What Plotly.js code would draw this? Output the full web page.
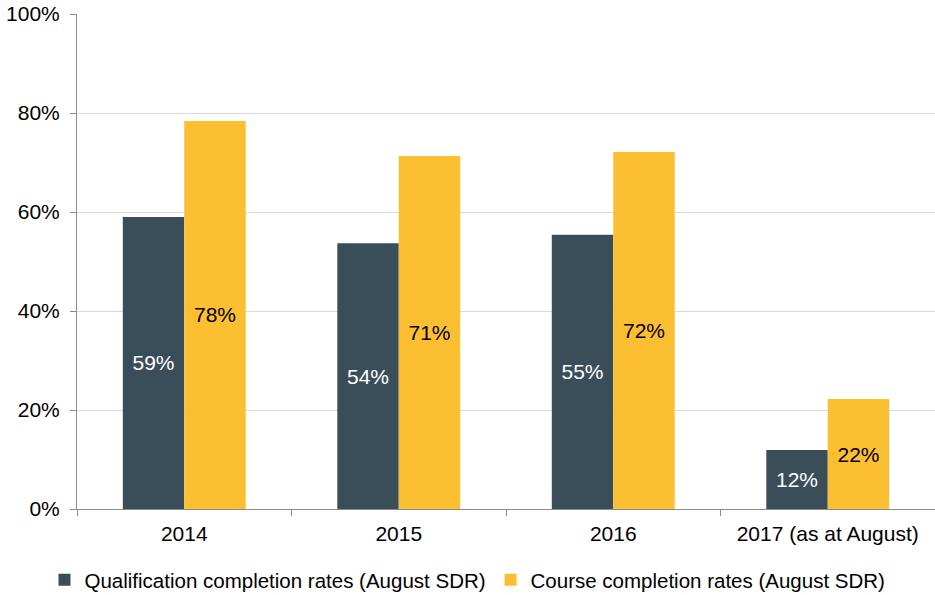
<!DOCTYPE html>
<html>
<head>
<meta charset="utf-8">
<script src="https://cdn.plot.ly/plotly-3.0.1.min.js"></script>
<style>html,body{margin:0;padding:0;background:#fff;}#chart{width:935px;height:595px;}</style>
</head>
<body>
<div id="chart"></div>
<script>
const categories = ["2014", "2015", "2016", "2017 (as at August)"];
const qualificationRates = [0.59, 0.537, 0.554, 0.119];
const courseRates = [0.784, 0.713, 0.721, 0.222];
const qualificationLabels = ["59%", "54%", "55%", "12%"];
const courseLabels = ["78%", "71%", "72%", "22%"];
const seriesNames = ["Qualification completion rates (August SDR)", "Course completion rates (August SDR)"];

const FONT = "Arial, 'Liberation Sans', sans-serif";
const FS = 21;

const traces = [
  {
    type: "bar", name: seriesNames[0], x: categories, y: qualificationRates,
    text: qualificationLabels, textposition: "inside", insidetextanchor: "middle",
    textfont: {color: "#ffffff", size: FS, family: FONT},
    marker: {color: "#3a4e5a"}, hoverinfo: "none", constraintext: "none"
  },
  {
    type: "bar", name: seriesNames[1], x: categories, y: courseRates,
    text: courseLabels, textposition: "inside", insidetextanchor: "middle",
    textfont: {color: "#000000", size: FS, family: FONT},
    marker: {color: "#fdbf32"}, hoverinfo: "none", constraintext: "none"
  }
];

const layout = {
  width: 935, height: 595,
  margin: {l: 77, r: 0, t: 14, b: 86},
  paper_bgcolor: "#ffffff", plot_bgcolor: "#ffffff",
  font: {family: FONT, size: FS, color: "#000000"},
  barmode: "group", bargap: 0.427, bargroupgap: 0,
  showlegend: true,
  legend: {orientation: "h", x: 0.5, xanchor: "center", xref: "container",
           y: 15/595, yanchor: "middle", yref: "container",
           font: {size: 20.5, family: FONT, color: "#000"}, itemwidth: 30, traceorder: "normal"},
  xaxis: {
    type: "category", tickson: "boundaries", ticks: "outside", ticklen: 6,
    tickcolor: "#8c8c8c", showline: true, linecolor: "#8c8c8c", linewidth: 1,
    showgrid: false, zeroline: false, tickfont: {size: FS}, ticklabelstandoff: 6,
    fixedrange: true
  },
  yaxis: {
    range: [0, 1], dtick: 0.2, tickformat: ".0%", ticks: "outside", ticklen: 6,
    tickcolor: "#8c8c8c", showline: true, linecolor: "#8c8c8c", linewidth: 1,
    showgrid: true, gridcolor: "#d9d9d9", zeroline: false, tickfont: {size: FS},
    ticklabelstandoff: 6, fixedrange: true
  }
};

Plotly.newPlot("chart", traces, layout, {displayModeBar: false, staticPlot: true});
</script>
</body>
</html>
